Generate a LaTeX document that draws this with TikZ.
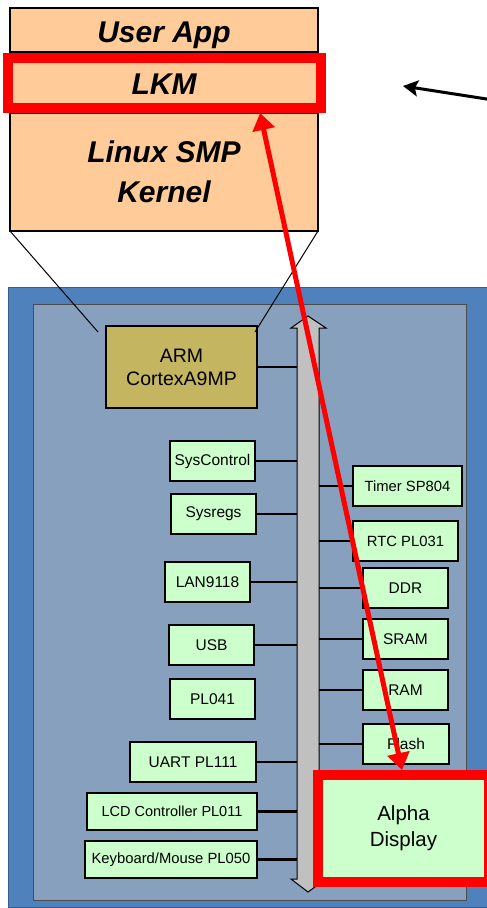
\documentclass[tikz,border=0pt]{standalone}
\usepackage{fontspec}
\setmainfont{Liberation Sans}
\usetikzlibrary{arrows.meta,calc}
\definecolor{peach}{RGB}{255,204,153}
\definecolor{mint}{RGB}{204,255,204}
\definecolor{olive}{RGB}{196,181,96}
\definecolor{boardblue}{RGB}{79,129,189}
\definecolor{boardedge}{RGB}{56,93,138}
\definecolor{chipblue}{RGB}{135,160,190}
\definecolor{busgray}{RGB}{192,192,192}
\tikzset{
  layer/.style={draw=black, line width=1.2pt, fill=peach, minimum width=308pt,
    inner sep=0pt, outer sep=0pt, align=center,
    font=\fontsize{30}{40}\selectfont\bfseries\itshape},
  gbox/.style={draw=black, line width=1.3pt, fill=mint, inner sep=0pt, outer sep=0pt,
    align=center, font=\fontsize{15.5}{18}\selectfont},
  cpu/.style={draw=black, line width=1.3pt, fill=olive, inner sep=0pt, outer sep=0pt,
    align=center, font=\fontsize{19.5}{23}\selectfont},
  conn/.style={line width=2.8pt},
  hilite/.style={draw=red, line width=10pt, inner sep=0pt, fill=none},
  redlink/.style={draw=red, line width=5pt,
    {Triangle[length=17pt,width=22pt]}-{Triangle[length=17pt,width=22pt]}},
  pointer/.style={line width=3pt, -{Stealth[length=15pt,width=16pt,inset=3pt]}},
  zoomline/.style={line width=1pt}
}
\begin{document}
\begin{tikzpicture}[x=1pt,y=-1pt]
\useasboundingbox (0,0) rectangle (487,908);

% board and chip
\draw[draw=boardedge, line width=1pt, fill=boardblue] (8,287) rectangle (520,907);
\draw[draw=black!70, line width=1pt, fill=chipblue] (33,304) rectangle (466,900);

% software stack
\node[layer, minimum height=44pt, text height=25.5pt, text depth=0pt] (userapp) at (164,30) {User App};
\node[layer, minimum height=61pt, text height=24pt, text depth=0pt] (lkm) at (164,82.5) {LKM};
\node[layer, minimum height=118pt] (kernel) at (164,172) {Linux SMP\\Kernel};

% processor
\node[cpu, minimum width=151pt, minimum height=82pt] (arm) at (181.5,367) {ARM\\CortexA9MP};

% system bus
\node[minimum width=22pt, minimum height=551pt, inner sep=0pt, outer sep=0pt] (bus) at (308,603.5) {};
\draw[line width=1pt, fill=busgray]
  (bus.north west) -- ++(-6,0) -- ($(bus.north)+(0,-12)$) -- ($(bus.north east)+(7,0)$)
  -- (bus.north east) -- (bus.south east) -- ++(7,0) -- ($(bus.south)+(0,13)$)
  -- ($(bus.south west)+(-6,0)$) -- (bus.south west) -- cycle;

% left-hand peripherals
\node[gbox, minimum width=85pt, minimum height=40pt] (sysctl) at (212.5,461) {SysControl};
\node[gbox, minimum width=85pt, minimum height=40pt] (sysregs) at (213.5,514) {Sysregs};
\node[gbox, minimum width=85pt, minimum height=40pt] (lan) at (207.5,582) {LAN9118};
\node[gbox, minimum width=85pt, minimum height=40pt] (usb) at (211.5,645) {USB};
\node[gbox, minimum width=85pt, minimum height=40pt] (pl041) at (212.5,699) {PL041};
\node[gbox, minimum width=126pt, minimum height=40pt] (uart) at (193,762) {UART PL111};
\node[gbox, minimum width=170pt, minimum height=37pt, font=\fontsize{14.5}{17}\selectfont] (lcd) at (172,811.5) {LCD Controller PL011};
\node[gbox, minimum width=172pt, minimum height=37pt, font=\fontsize{14.8}{17}\selectfont] (kbd) at (171,859.5) {Keyboard/Mouse PL050};

% right-hand peripherals
\node[gbox, minimum width=109pt, minimum height=40pt, font=\fontsize{14.8}{17}\selectfont] (timer) at (407.5,486) {Timer SP804};
\node[gbox, minimum width=105pt, minimum height=40pt, font=\fontsize{14.8}{17}\selectfont] (rtc) at (405.5,541) {RTC PL031};
\node[gbox, minimum width=85pt, minimum height=40pt] (ddr) at (405.5,588) {DDR};
\node[gbox, minimum width=85pt, minimum height=40pt] (sram) at (405.5,639) {SRAM};
\node[gbox, minimum width=85pt, minimum height=40pt] (ram) at (405.5,690) {RAM};
\node[gbox, minimum width=86pt, minimum height=40pt] (flash) at (406,744) {Flash};
\node[gbox, draw=none, minimum width=161pt, minimum height=97pt, font=\fontsize{20.5}{26}\selectfont] (alpha) at (403.5,828.5) {Alpha\\Display};

% bus connections
\foreach \n in {arm,sysctl,sysregs,lan,usb,uart,lcd,kbd}
  \draw[conn] (\n.east) -- (\n.east -| bus.west);
\foreach \n in {timer,rtc,ddr,sram,ram,flash}
  \draw[conn] (\n.west -| bus.east) -- (\n.west);

% zoom lines from the software stack to the processor
\coordinate (armL) at ($(arm.north west)+(-8,6)$);
\coordinate (armR) at ($(arm.north east)+(-2,6)$);
\draw[zoomline] (kernel.south west) -- (armL);
\draw[zoomline] (kernel.south east) -- (armR);

% highlights
\node[hilite, minimum width=313pt, minimum height=50pt] (lkmhi) at (164.5,83) {};
\node[hilite, minimum width=171pt, minimum height=107pt] (alphahi) at (403.5,828.5) {};

% link between the module and the display
\draw[redlink] ($(lkmhi.south west)!0.796!(lkmhi.south east)$) -- ($(alphahi.north)+(-1.5,0)$);

% pointer towards the stack
\coordinate (ptrtail) at (495,100.3);
\coordinate (ptrtip) at (403,86);
\draw[pointer] (ptrtail) -- (ptrtip);
\end{tikzpicture}
\end{document}
